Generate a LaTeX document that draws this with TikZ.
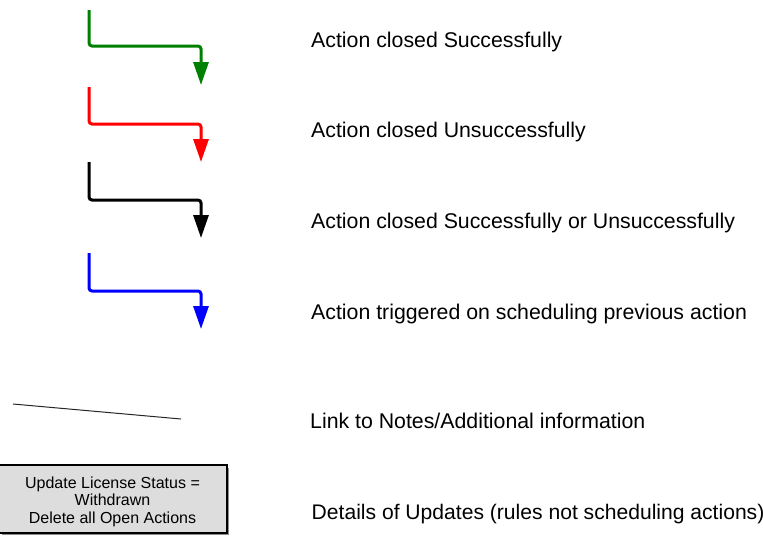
\documentclass[tikz,border=0pt]{standalone}
\usepackage{fontspec}
\setmainfont{Liberation Sans}
\usetikzlibrary{arrows.meta}
\definecolor{lgreen}{RGB}{0,128,0}
\definecolor{lred}{RGB}{255,0,0}
\definecolor{lblue}{RGB}{0,0,255}
\definecolor{boxfill}{RGB}{221,221,221}
\tikzset{
  legendarrow/.style={line width=3pt, rounded corners=3pt,
    -{Triangle[length=23pt,width=15pt]}},
  legendtext/.style={anchor=base west, inner sep=0pt, font=\fontsize{21.3}{25}\selectfont},
  detailbox/.style={draw=black, line width=1.5pt, fill=boxfill, minimum width=229pt,
    minimum height=68pt, inner sep=0pt},
  boxtext/.style={inner sep=0pt, align=center, font=\fontsize{16}{17.5}\selectfont},
  notelink/.style={line width=1pt, draw=black!85}
}
\begin{document}
\begin{tikzpicture}[x=1pt,y=-1pt]
\useasboundingbox (0,0) rectangle (763,539);
% arrows
\coordinate (g0) at (89,10); \coordinate (g1) at (201,85);
\coordinate (r0) at (89,87); \coordinate (r1) at (201,162);
\coordinate (k0) at (89,162); \coordinate (k1) at (201,238);
\coordinate (b0) at (89,253); \coordinate (b1) at (201,329);
\draw[legendarrow, lgreen] (g0) |- (201,46) -- (g1);
\draw[legendarrow, lred] (r0) |- (201,124) -- (r1);
\draw[legendarrow, black] (k0) |- (201,200) -- (k1);
\draw[legendarrow, lblue] (b0) |- (201,291) -- (b1);
% note link
\coordinate (n0) at (13,404); \coordinate (n1) at (181,419);
\draw[notelink] (n0) -- (n1);
% box with shadow
\fill[black!45] (1.5,467.5) rectangle (229,535);
\node[detailbox] (box) at (112.5,499) {};
\node[boxtext] (boxlabel) at (112.5,501.5) {Update License Status =\\Withdrawn\\Delete all Open Actions};
% texts
\node[legendtext] (t1) at (311,47) {Action closed Successfully};
\node[legendtext] (t2) at (311,137) {Action closed Unsuccessfully};
\node[legendtext] (t3) at (311,228) {Action closed Successfully or Unsuccessfully};
\node[legendtext] (t4) at (311,319) {Action triggered on scheduling previous action};
\node[legendtext] (t5) at (310,428) {Link to Notes/Additional information};
\node[legendtext, font=\fontsize{21.1}{25}\selectfont] (t6) at (311.5,519) {Details of Updates (rules not scheduling actions)};
\end{tikzpicture}
\end{document}
